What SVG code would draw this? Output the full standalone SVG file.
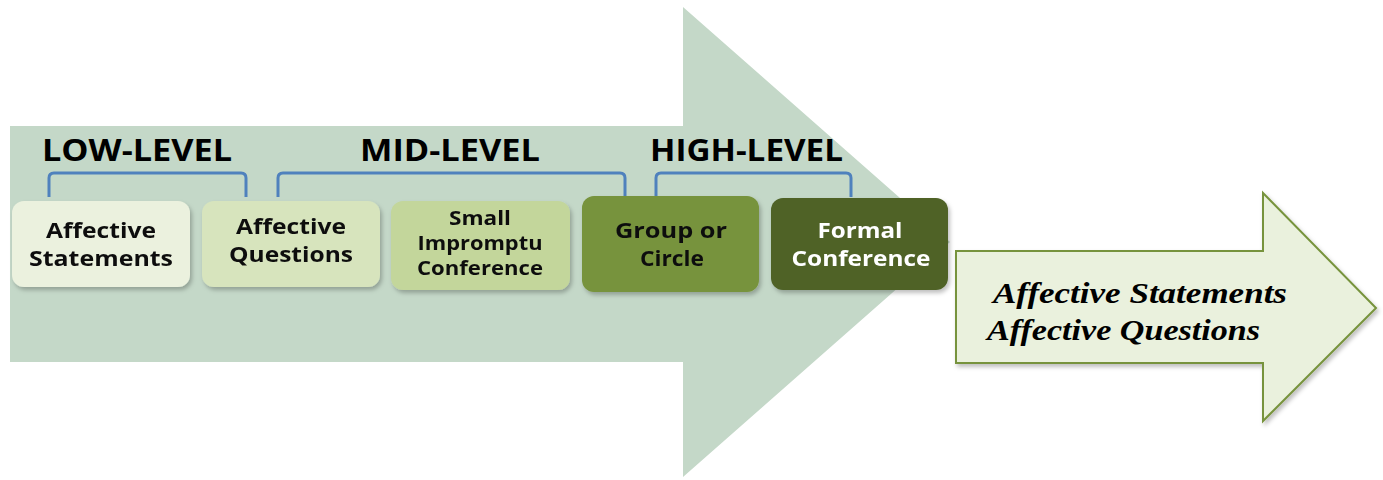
<svg xmlns="http://www.w3.org/2000/svg" width="1383" height="480" viewBox="0 0 1383 480">
<defs>
<filter id="sh" x="-10%" y="-10%" width="130%" height="130%">
<feDropShadow dx="2" dy="3" stdDeviation="2" flood-color="#000" flood-opacity="0.25"/>
</filter>
<style>
.lvl{font-family:"Open Sans","Liberation Sans",sans-serif;font-weight:bold;font-size:30px;fill:#000}
.bt{font-family:"Open Sans","Liberation Sans",sans-serif;font-weight:bold;font-size:22px;fill:#111;text-anchor:middle}
.sm{font-size:20px}
.br{fill:none;stroke:#4f81bd;stroke-width:3;stroke-linejoin:round}
.it{font-family:"Liberation Serif",serif;font-weight:bold;font-style:italic;font-size:30px;fill:#000}
</style>
</defs>
<rect width="1383" height="480" fill="#fff"/>
<g id="big-arrow">
<polygon points="10,126 683,126 683,7 950,242 683,477 683,362 10,362" fill="#c4d8c8"/>
</g>
<g id="labels">
<text class="lvl" x="42" y="161" textLength="190" lengthAdjust="spacingAndGlyphs">LOW-LEVEL</text>
<text class="lvl" x="360" y="161" textLength="180" lengthAdjust="spacingAndGlyphs">MID-LEVEL</text>
<text class="lvl" x="650" y="161" textLength="193" lengthAdjust="spacingAndGlyphs">HIGH-LEVEL</text>
</g>
<g id="connectors">
<path class="br" d="M49,197 V178 Q49,173 54,173 H241 Q246,173 246,178 V197"/>
<path class="br" d="M278,197 V178 Q278,173 283,173 H620 Q625,173 625,178 V197"/>
<path class="br" d="M656,197 V178 Q656,173 661,173 H846 Q851,173 851,178 V197"/>
</g>
<g id="n1" filter="url(#sh)">
<rect x="12" y="201" width="178" height="86" rx="12" fill="#ebf1de"/>
<text class="bt" x="101" y="238" textLength="110" lengthAdjust="spacingAndGlyphs">Affective</text>
<text class="bt" x="101" y="266" textLength="144" lengthAdjust="spacingAndGlyphs">Statements</text>
</g>
<g id="n2" filter="url(#sh)">
<rect x="202" y="201" width="178" height="86" rx="12" fill="#d7e4bd"/>
<text class="bt" x="291" y="234" textLength="110" lengthAdjust="spacingAndGlyphs">Affective</text>
<text class="bt" x="291" y="262" textLength="124" lengthAdjust="spacingAndGlyphs">Questions</text>
</g>
<g id="n3" filter="url(#sh)">
<rect x="391" y="201" width="179" height="89" rx="12" fill="#c3d69b"/>
<text class="bt sm" x="480" y="225" textLength="62" lengthAdjust="spacingAndGlyphs">Small</text>
<text class="bt sm" x="480" y="250" textLength="125" lengthAdjust="spacingAndGlyphs">Impromptu</text>
<text class="bt sm" x="480" y="275" textLength="126" lengthAdjust="spacingAndGlyphs">Conference</text>
</g>
<g id="n4" filter="url(#sh)">
<rect x="582" y="196" width="177" height="96" rx="12" fill="#77933c"/>
<text class="bt" x="671" y="238" textLength="112" lengthAdjust="spacingAndGlyphs">Group or</text>
<text class="bt" x="672" y="266" textLength="64" lengthAdjust="spacingAndGlyphs">Circle</text>
</g>
<g id="n5" filter="url(#sh)">
<rect x="771" y="198" width="177" height="92" rx="12" fill="#4f6228"/>
<text class="bt" x="860" y="238" style="fill:#fff" textLength="85" lengthAdjust="spacingAndGlyphs">Formal</text>
<text class="bt" x="861" y="266" style="fill:#fff" textLength="139" lengthAdjust="spacingAndGlyphs">Conference</text>
</g>
<g id="right-arrow">
<polygon points="956,251 1263,251 1263,193 1376,308 1263,421 1263,363 956,363" fill="#eaf1dd" stroke="#77933c" stroke-width="2" filter="url(#sh)"/>
<text class="it" x="993" y="303" textLength="294" lengthAdjust="spacingAndGlyphs">Affective Statements</text>
<text class="it" x="987" y="340" textLength="273" lengthAdjust="spacingAndGlyphs">Affective Questions</text>
</g>
</svg>
